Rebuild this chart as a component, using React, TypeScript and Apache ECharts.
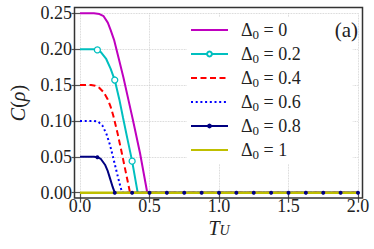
import React, { useEffect, useRef } from "react";
import * as echarts from "echarts";

const FONT = '"Liberation Serif", "DejaVu Serif", serif';

// marker positions
const MARKS_02 = [0.125, 0.25, 0.375];
const MARKS_08 = [0.125, 0.25, 0.375, 0.5, 0.625, 0.75, 0.875, 1, 1.125, 1.25, 1.375, 1.5, 1.625, 1.75, 1.875, 2];
const ZERO_TAIL_T = [0.5, 0.625, 0.75, 0.875, 1, 1.125, 1.25, 1.375, 1.5, 1.625, 1.75, 1.875, 2];

const DELTAS = ["0", "0.2", "0.4", "0.6", "0.8", "1"];
const COLORS = ["#bf00bf", "#00bfbf", "#ff0000", "#0000ff", "#000080", "#bfbf00"];

// Δ0 = 0
const T_0 = [0, 0.1, 0.14, 0.17, 0.2, 0.22, 0.245, 0.28, 0.312, 0.35, 0.38, 0.432, 0.484, 2];
const C_0 = [0.25, 0.25, 0.249, 0.246, 0.237, 0.227, 0.213, 0.186, 0.161, 0.128, 0.102, 0.055, 0, 0];
// Δ0 = 0.2
const T_02 = [0, 0.1, 0.125, 0.15, 0.187, 0.22, 0.25, 0.283, 0.31, 0.34, 0.375, 0.415, 2];
const C_02 = [0.2, 0.2, 0.199, 0.196, 0.187, 0.173, 0.157, 0.13, 0.104, 0.076, 0.044, 0, 0];
// Δ0 = 0.4
const T_04 = [0, 0.08, 0.11, 0.14, 0.17, 0.2, 0.22, 0.24, 0.27, 0.3, 0.33, 0.36, 2];
const C_04 = [0.15, 0.15, 0.149, 0.146, 0.14, 0.13, 0.12, 0.107, 0.083, 0.056, 0.028, 0, 0];
// Δ0 = 0.6
const T_06 = [0, 0.1, 0.13, 0.16, 0.19, 0.215, 0.24, 0.265, 0.29, 0.303, 2];
const C_06 = [0.1, 0.1, 0.099, 0.094, 0.082, 0.067, 0.048, 0.028, 0.009, 0, 0];
// Δ0 = 0.8
const T_08 = [0, 0.1, 0.125, 0.15, 0.18, 0.2, 0.216, 0.235, 0.25, 0.375, ...ZERO_TAIL_T];
const C_08 = [0.05, 0.05, 0.0495, 0.047, 0.039, 0.03, 0.02, 0.008, 0, 0, 0, 0, 0, 0, 0, 0, 0, 0, 0, 0, 0, 0, 0];
// Δ0 = 1
const T_1 = [0, 2];
const C_1 = [0, 0];

const X_TICKS = [0, 0.5, 1, 1.5, 2];
const Y_TICKS = [0, 0.05, 0.1, 0.15, 0.2, 0.25];

function toData(ts: number[], cs: number[], marks: number[]) {
  return ts.map((t, i) => ({
    value: [t, cs[i]],
    symbol: marks.some((m) => Math.abs(m - t) < 1e-9) ? "circle" : "none",
  }));
}

export default function App() {
  const ref = useRef<HTMLDivElement>(null);
  useEffect(() => {
    if (!ref.current) return;
    const chart = echarts.init(ref.current, null, { renderer: "svg" });
    const names = DELTAS.map((d) => `Δ0 = ${d}`);
    const curves = [
      [T_0, C_0],
      [T_02, C_02],
      [T_04, C_04],
      [T_06, C_06],
      [T_08, C_08],
      [T_1, C_1],
    ];
    const markLists = [[], MARKS_02, [], [], MARKS_08, []];
    const marked = markLists.map((m) => m.length > 0);
    const lineTypes: any[] = ["solid", "solid", [6, 3.5], [2, 2.7], "solid", "solid"];
    const widths = [2, 2, 2, 2, 2, 2.5];

    const series = curves.map((c, i) => {
      const s: any = {
        name: names[i],
        type: "line",
        data: toData(c[0] as number[], c[1] as number[], markLists[i]),
        showAllSymbol: true,
        clip: false,
        color: COLORS[i],
        lineStyle: { color: COLORS[i], width: widths[i], type: lineTypes[i] },
        symbol: marked[i] ? "circle" : "none",
        z: 2,
      };
      if (i === 1) {
        s.symbolSize = 6;
        s.itemStyle = { color: "#ffffff", borderColor: COLORS[i], borderWidth: 1.3 };
      } else if (i === 4) {
        s.symbolSize = 4;
        s.itemStyle = { color: COLORS[i], borderWidth: 0 };
      } else {
        s.itemStyle = { color: COLORS[i] };
      }
      return s;
    });

    const richTxt = {
      d: { fontFamily: FONT, fontSize: 18, lineHeight: 22, color: "#222", padding: [0, 0, 0, 8] },
      s: { fontFamily: FONT, fontSize: 13, lineHeight: 13, color: "#222", verticalAlign: "bottom" },
      t: { fontFamily: FONT, fontSize: 18, lineHeight: 22, color: "#222" },
    };

    const axisCommon = {
      type: "value",
      axisLine: { show: false },
      splitLine: { show: true, lineStyle: { type: "dotted", color: "#c8c8c8", width: 0.8 } },
    };

    chart.setOption({
      animation: false,
      grid: { left: 80, top: 13.3, width: 278, height: 179.4 },
      xAxis: {
        ...axisCommon,
        min: X_TICKS[0],
        max: X_TICKS[X_TICKS.length - 1],
        interval: 0.5,
        axisTick: { show: true, length: 10, lineStyle: { color: "#555", width: 1.2 } },
        axisLabel: {
          formatter: (v: number) => v.toFixed(1),
          fontFamily: FONT,
          fontSize: 18,
          color: "#222",
          margin: 4,
        },
        name: "{i|T}{s|U}",
        nameLocation: "middle",
        nameGap: 26,
        nameMoveOverlap: false,
        nameTextStyle: {
          rich: {
            i: { fontFamily: FONT, fontSize: 20, fontStyle: "italic", color: "#222", lineHeight: 19 },
            s: { fontFamily: FONT, fontSize: 14, fontStyle: "italic", color: "#222", lineHeight: 12, verticalAlign: "bottom" },
          },
        },
      },
      yAxis: {
        ...axisCommon,
        min: Y_TICKS[0],
        max: Y_TICKS[Y_TICKS.length - 1],
        interval: 0.05,
        axisTick: { show: true, length: 8.5, lineStyle: { color: "#555", width: 1.2 } },
        axisLabel: {
          formatter: (v: number) => v.toFixed(2),
          fontFamily: FONT,
          fontSize: 18,
          color: "#222",
          margin: 8,
        },
        name: "{i|C}{n|(}{i|ρ}{n|)}",
        nameLocation: "middle",
        nameRotate: 90,
        nameGap: 52,
        nameTextStyle: {
          rich: {
            i: { fontFamily: FONT, fontSize: 20, fontStyle: "italic", color: "#222" },
            n: { fontFamily: FONT, fontSize: 20, color: "#222" },
          },
        },
      },
      legend: {
        orient: "vertical",
        left: 187,
        top: 17,
        padding: [4, 52, 3, 3],
        itemWidth: 37,
        itemHeight: 6,
        itemGap: 4,
        backgroundColor: "#ffffff",
        data: names.map((n, i) => (marked[i] ? { name: n } : { name: n, itemStyle: { opacity: 0, color: "transparent", borderWidth: 0 } })),
        formatter: (name: string) => name.replace(/^Δ0 = (.*)$/, "{d|Δ}{s|0}{t| = $1}"),
        textStyle: { fontFamily: FONT, fontSize: 18, color: "#222", rich: richTxt },
      },
      graphic: [
        {
          type: "rect",
          z: 10,
          shape: { x: 74.5, y: 7.5, width: 288, height: 190.5 },
          style: { fill: "none", stroke: "#333", lineWidth: 1.5 },
          silent: true,
        },
        {
          type: "text",
          z: 10,
          x: 358,
          y: 30,
          style: { text: "(a)", align: "right", verticalAlign: "middle", fontFamily: FONT, fontSize: 21, fill: "#222" },
        },
      ],
      series,
    });
    return () => chart.dispose();
  }, []);
  return <div ref={ref} style={{ width: 374, height: 249, position: "absolute", left: 0, top: 0 }} />;
}
